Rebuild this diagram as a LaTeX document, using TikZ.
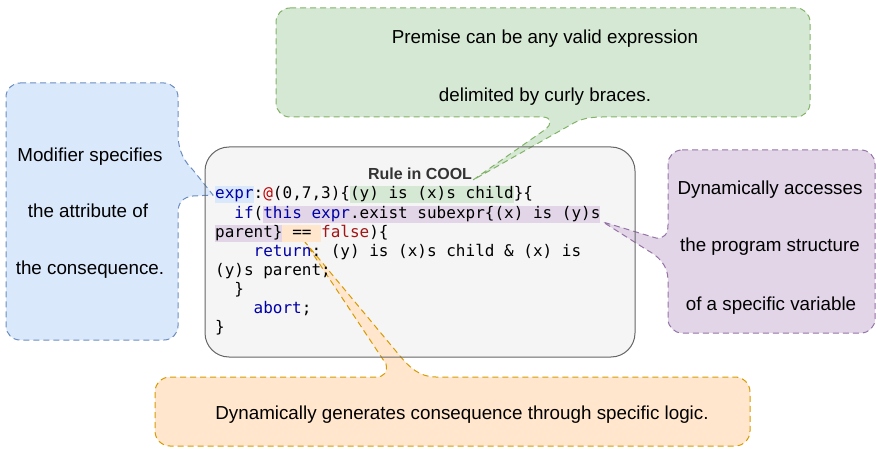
\documentclass[tikz,border=0pt]{standalone}
\usepackage{fontspec}
\setmainfont{Liberation Sans}
\setmonofont{DejaVu Sans Mono}
\definecolor{bfill}{HTML}{DAE8FC}\definecolor{bline}{HTML}{6C8EBF}
\definecolor{gfill}{HTML}{D5E8D4}\definecolor{gline}{HTML}{82B366}
\definecolor{pfill}{HTML}{E1D5E7}\definecolor{pline}{HTML}{9673A6}
\definecolor{ofill}{HTML}{FFE6CC}\definecolor{oline}{HTML}{D79B00}
\definecolor{rfill}{HTML}{F5F5F5}\definecolor{rline}{HTML}{666666}
\definecolor{kw}{HTML}{0000A8}
\definecolor{atred}{HTML}{C00000}
\definecolor{fls}{HTML}{A31515}
\definecolor{ttl}{HTML}{333333}
\def\cw{9.63}
\def\xo{215}
\newcommand\codehl[4]{\fill[#1] ({\xo+#2*\cw},{#4-12.5}) rectangle ({\xo+#3*\cw},{#4+4.5});}
\begin{document}
\begin{tikzpicture}[x=1pt,y=-1pt,
  callout/.style={dash pattern=on 6pt off 4pt, line width=1pt},
  lbl/.style={font=\fontsize{18.8}{22}\selectfont, anchor=base, inner sep=0},
  code/.style={font=\fontsize{16}{19}\selectfont\ttfamily, anchor=base west, inner sep=0}]
\useasboundingbox (0,0) rectangle (876,449);
% rule box fill
\path[fill=rfill, rounded corners=24pt] (205,147) rectangle (635,357);
% blue callout
\path[callout, fill=bfill, draw=bline] (20,83) -- (164,83) arc[start angle=90,end angle=0,radius=14pt] -- (178,133) .. controls (178,152) and (185,162) .. (193,170) -- (213,195) -- (193,196) .. controls (183,197) and (178,203) .. (178,212) -- (178,326) arc[start angle=0,end angle=-90,radius=14pt] -- (20,340) arc[start angle=270,end angle=180,radius=14pt] -- (6,97) arc[start angle=180,end angle=90,radius=14pt] -- cycle;
% green callout
\path[callout, fill=gfill, draw=gline] (290,8) -- (796,8) arc[start angle=90,end angle=0,radius=14pt] -- (810,103) arc[start angle=0,end angle=-90,radius=14pt] -- (602,117) .. controls (590,117) and (580,119) .. (572,124) -- (473,180) -- (546,129) .. controls (551,125) and (553,117) .. (542,117) -- (290,117) arc[start angle=270,end angle=180,radius=14pt] -- (276,22) arc[start angle=180,end angle=90,radius=14pt] -- cycle;
% purple callout
\path[callout, fill=pfill, draw=pline] (682,150) -- (861,150) arc[start angle=90,end angle=0,radius=14pt] -- (875,319) arc[start angle=0,end angle=-90,radius=14pt] -- (682,333) arc[start angle=270,end angle=180,radius=14pt] -- (668,280) .. controls (668,265) and (658,256) .. (647,250) -- (603,222) -- (656,238) .. controls (664,239) and (668,234) .. (668,225) -- (668,164) arc[start angle=180,end angle=90,radius=14pt] -- cycle;
% orange callout
\path[callout, fill=ofill, draw=oline] (170,377) -- (376,377) .. controls (384,377) and (388,372) .. (386,364) -- (305,242) -- (400,356) .. controls (410,368) and (420,377) .. (436,377) -- (735,377) arc[start angle=90,end angle=0,radius=15pt] -- (750,431) arc[start angle=0,end angle=-90,radius=15pt] -- (170,446) arc[start angle=270,end angle=180,radius=15pt] -- (155,392) arc[start angle=180,end angle=90,radius=15pt] -- cycle;
% rule box border
\draw[rline, line width=1pt, rounded corners=24pt] (205,147) rectangle (635,357);
% highlights
\codehl{bfill}{0}{4}{199}
\codehl{gfill}{14}{31}{199}
\codehl{pfill}{5}{40}{218.1}
\codehl{pfill}{0}{7}{237.2}
\codehl{ofill}{7}{11}{237.2}
% title
\node[font=\fontsize{16}{18}\selectfont\bfseries, text=ttl, anchor=base, inner sep=0] (title) at (420,180) {Rule in COOL};
% code
\node[code] (c1) at (\xo,199) {\textcolor{kw}{expr}:\textcolor{atred}{@}(0,7,3)\{(y) is (x)s child\}\{};
\node[code] (c2) at ({\xo+2*\cw},218.1) {\textcolor{kw}{if}(\textcolor{kw}{this expr}.exist subexpr\{(x) is (y)s};
\node[code] (c3) at (\xo,237.2) {parent\} == \textcolor{fls}{false})\{};
\node[code] (c4) at ({\xo+4*\cw},256.3) {\textcolor{kw}{return}: (y) is (x)s child \& (x) is};
\node[code] (c5) at (\xo,275.4) {(y)s parent;};
\node[code] (c6) at ({\xo+2*\cw},294.5) {\}};
\node[code] (c7) at ({\xo+4*\cw},313.6) {\textcolor{kw}{abort};};
\node[code] (c8) at (\xo,332.7) {\}};
% labels
\node[lbl] (m1) at (90,162) {Modifier specifies};
\node[lbl] (m2) at (88,218) {the attribute of};
\node[lbl] (m3) at (90,275) {the consequence.};
\node[lbl] (p1) at (545,44) {Premise can be any valid expression};
\node[lbl] (p2) at (545,102) {delimited by curly braces.};
\node[lbl] (d1) at (770,195) {Dynamically accesses};
\node[lbl] (d2) at (770,252) {the program structure};
\node[lbl] (d3) at (771,310) {of a specific variable};
\node[lbl] (g1) at (462,419) {Dynamically generates consequence through specific logic.};
\end{tikzpicture}
\end{document}
